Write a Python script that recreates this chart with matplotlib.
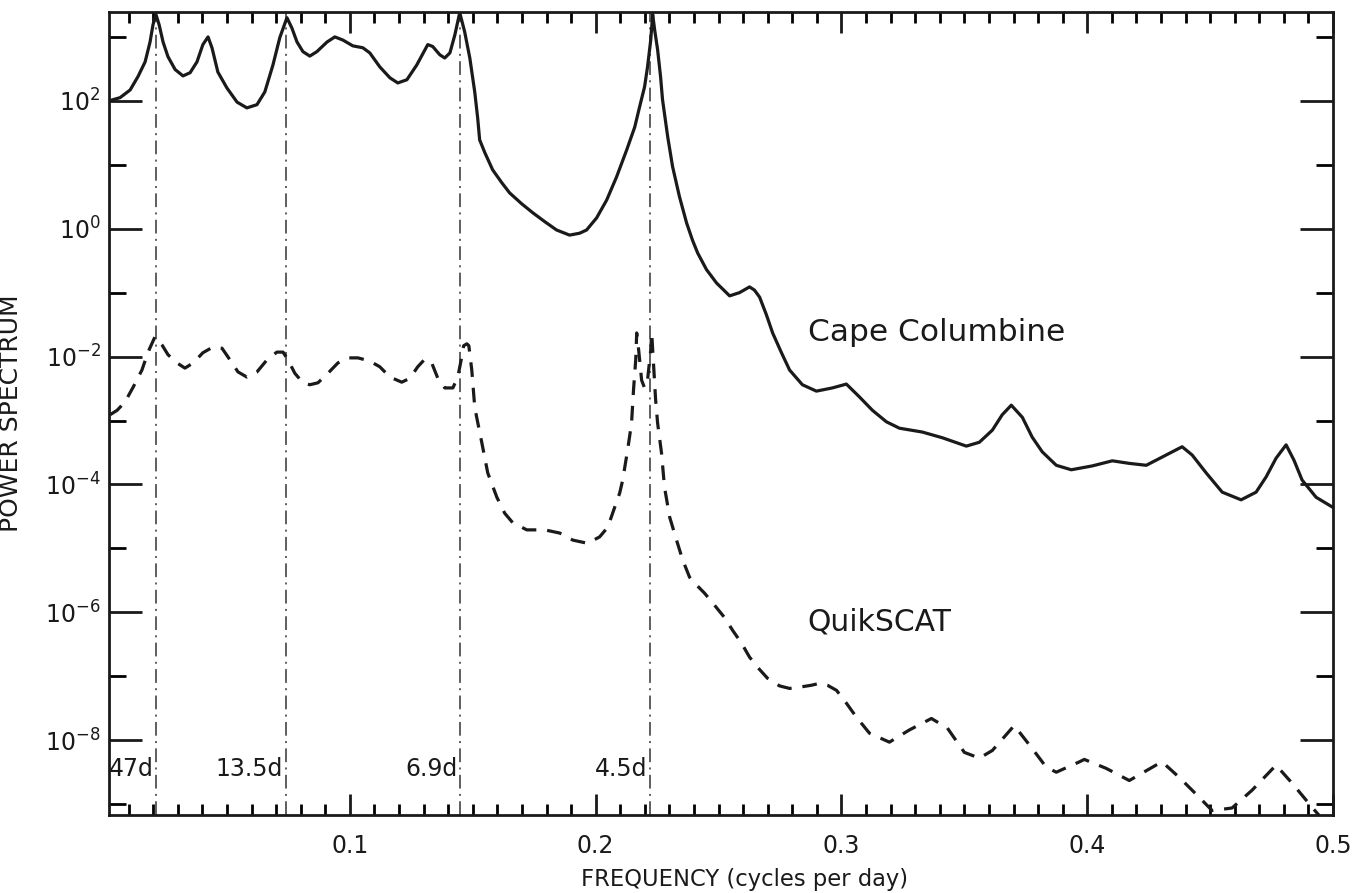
import numpy as np
import matplotlib
matplotlib.use("Agg")
import matplotlib.pyplot as plt
from matplotlib.ticker import FixedLocator, MultipleLocator, FuncFormatter

plt.rcParams['font.family'] = ['DejaVu Sans']
plt.rcParams['mathtext.default'] = 'regular'

# Cape Columbine spectrum: frequency (cpd) and log10 power
cape_freq = [0.0020, 0.0065, 0.0106, 0.0138, 0.0167, 0.0187, 0.0199, 0.0211, 0.0224, 0.0240,
             0.0260, 0.0289, 0.0321, 0.0350, 0.0378, 0.0402, 0.0423, 0.0439, 0.0463, 0.0500,
             0.0541, 0.0581, 0.0622, 0.0654, 0.0687, 0.0715, 0.0744, 0.0764, 0.0785, 0.0809,
             0.0837, 0.0866, 0.0907, 0.0939, 0.0972, 0.1012, 0.1053, 0.1081, 0.1122, 0.1163,
             0.1195, 0.1232, 0.1272, 0.1317, 0.1337, 0.1366, 0.1386, 0.1407, 0.1427, 0.1447,
             0.1467, 0.1488, 0.1508, 0.1520, 0.1528, 0.1549, 0.1581, 0.1618, 0.1650, 0.1699,
             0.1744, 0.1793, 0.1841, 0.1894, 0.1935, 0.1963, 0.2004, 0.2045, 0.2085, 0.2126,
             0.2159, 0.2179, 0.2199, 0.2211, 0.2224, 0.2232, 0.2240, 0.2252, 0.2264, 0.2272,
             0.2293, 0.2313, 0.2341, 0.2370, 0.2394, 0.2415, 0.2451, 0.2492, 0.2545, 0.2585,
             0.2626, 0.2646, 0.2667, 0.2695, 0.2720, 0.2756, 0.2789, 0.2841, 0.2898, 0.2963,
             0.3020, 0.3073, 0.3126, 0.3183, 0.3236, 0.3329, 0.3411, 0.3508, 0.3561, 0.3614,
             0.3654, 0.3691, 0.3736, 0.3776, 0.3817, 0.3874, 0.3935, 0.4020, 0.4102, 0.4171,
             0.4240, 0.4321, 0.4386, 0.4427, 0.4484, 0.4549, 0.4626, 0.4687, 0.4728, 0.4768,
             0.4809, 0.4841, 0.4874, 0.4931, 0.4996]
cape_logp = [2.00, 2.05, 2.17, 2.38, 2.61, 2.92, 3.19, 3.35, 3.19, 2.92,
             2.69, 2.49, 2.39, 2.44, 2.61, 2.88, 3.00, 2.83, 2.45, 2.20,
             1.98, 1.89, 1.94, 2.14, 2.56, 2.99, 3.30, 3.14, 2.92, 2.77,
             2.70, 2.77, 2.92, 3.00, 2.95, 2.86, 2.83, 2.75, 2.53, 2.36,
             2.28, 2.33, 2.56, 2.88, 2.85, 2.72, 2.67, 2.75, 3.03, 3.38,
             3.08, 2.67, 2.14, 1.73, 1.39, 1.19, 0.92, 0.72, 0.56, 0.39,
             0.25, 0.11, -0.02, -0.10, -0.07, -0.02, 0.17, 0.45, 0.81, 1.23,
             1.59, 1.91, 2.22, 2.53, 2.95, 3.35, 3.11, 2.80, 2.38, 2.02,
             1.44, 0.97, 0.50, 0.09, -0.18, -0.38, -0.64, -0.85, -1.05, -1.00,
             -0.91, -0.96, -1.07, -1.35, -1.63, -1.94, -2.21, -2.44, -2.54, -2.49,
             -2.43, -2.63, -2.84, -3.02, -3.12, -3.18, -3.27, -3.40, -3.34, -3.15,
             -2.91, -2.76, -2.95, -3.26, -3.49, -3.70, -3.77, -3.71, -3.63, -3.67,
             -3.70, -3.54, -3.41, -3.54, -3.82, -4.12, -4.24, -4.12, -3.88, -3.59,
             -3.38, -3.62, -3.93, -4.20, -4.35]

# QuikSCAT spectrum: frequency (cpd) and log10 power
qscat_freq = [0.0024, 0.0053, 0.0085, 0.0118, 0.0154, 0.0179, 0.0207, 0.0236, 0.0260, 0.0297,
              0.0329, 0.0362, 0.0402, 0.0443, 0.0480, 0.0512, 0.0545, 0.0581, 0.0622, 0.0663,
              0.0703, 0.0728, 0.0748, 0.0776, 0.0809, 0.0837, 0.0870, 0.0911, 0.0951, 0.0992,
              0.1033, 0.1081, 0.1122, 0.1163, 0.1211, 0.1244, 0.1276, 0.1305, 0.1333, 0.1358,
              0.1386, 0.1419, 0.1439, 0.1455, 0.1463, 0.1476, 0.1484, 0.1496, 0.1508, 0.1516,
              0.1537, 0.1561, 0.1598, 0.1630, 0.1663, 0.1720, 0.1793, 0.1854, 0.1907, 0.1967,
              0.2016, 0.2049, 0.2069, 0.2098, 0.2110, 0.2130, 0.2146, 0.2154, 0.2163, 0.2167,
              0.2175, 0.2187, 0.2199, 0.2211, 0.2224, 0.2228, 0.2236, 0.2244, 0.2252, 0.2268,
              0.2280, 0.2301, 0.2329, 0.2354, 0.2382, 0.2402, 0.2443, 0.2484, 0.2524, 0.2557,
              0.2593, 0.2626, 0.2659, 0.2699, 0.2748, 0.2789, 0.2829, 0.2878, 0.2911, 0.2943,
              0.2980, 0.3020, 0.3061, 0.3114, 0.3195, 0.3276, 0.3366, 0.3431, 0.3500, 0.3561,
              0.3614, 0.3703, 0.3772, 0.3833, 0.3874, 0.3967, 0.3988, 0.4077, 0.4171, 0.4293,
              0.4305, 0.4374, 0.4455, 0.4508, 0.4589, 0.4671, 0.4768, 0.4833, 0.4915, 0.4996]
qscat_logp = [-2.91, -2.84, -2.71, -2.48, -2.21, -1.93, -1.69, -1.82, -1.97, -2.10,
              -2.18, -2.10, -1.94, -1.85, -1.87, -2.05, -2.24, -2.32, -2.24, -2.05,
              -1.93, -1.93, -2.05, -2.26, -2.41, -2.44, -2.41, -2.26, -2.10, -2.02,
              -2.02, -2.07, -2.16, -2.32, -2.40, -2.34, -2.16, -2.04, -2.10, -2.34,
              -2.49, -2.49, -2.32, -2.01, -1.83, -1.80, -1.83, -2.21, -2.79, -2.95,
              -3.35, -3.82, -4.20, -4.45, -4.60, -4.71, -4.71, -4.76, -4.87, -4.92,
              -4.82, -4.67, -4.45, -4.13, -3.93, -3.46, -3.04, -2.52, -2.05, -1.63,
              -1.90, -2.37, -2.49, -2.37, -1.90, -1.63, -2.16, -2.68, -3.04, -3.51,
              -4.04, -4.51, -4.87, -5.18, -5.45, -5.54, -5.70, -5.89, -6.08, -6.28,
              -6.48, -6.70, -6.86, -7.03, -7.15, -7.19, -7.17, -7.14, -7.11, -7.14,
              -7.22, -7.42, -7.64, -7.89, -8.03, -7.84, -7.66, -7.81, -8.19, -8.28,
              -8.16, -7.77, -8.11, -8.42, -8.50, -8.34, -8.30, -8.44, -8.63, -8.36,
              -8.34, -8.58, -8.89, -9.10, -9.06, -8.78, -8.39, -8.67, -9.05, -9.41]

# Periods marked on the plot (days)
period_days = [47, 13.5, 6.9, 4.5]
period_labels = ['47d', '13.5d', '6.9d', '4.5d']

x_ticks = [0.1, 0.2, 0.3, 0.4, 0.5]
y_major_exp = [-8, -6, -4, -2, 0, 2]
y_minor_exp = [-9, -7, -5, -3, -1, 1, 3]

ink = '#1a1a1a'

fig = plt.figure(figsize=(13.59, 8.93), dpi=100)
ax = fig.add_axes([0.0802, 0.0873, 0.9007, 0.8993])

ax.plot(cape_freq, 10.0 ** np.array(cape_logp), color=ink, lw=2.3,
        solid_joinstyle='round', zorder=3)
ax.plot(qscat_freq, 10.0 ** np.array(qscat_logp), color=ink, lw=2.3,
        linestyle=(0, (4.6, 3.4)), zorder=3)

for p, lab in zip(period_days, period_labels):
    f = 1.0 / p
    ax.axvline(f, color='#333333', lw=1.1, linestyle=(0, (9, 3.5, 1.3, 3.5)), zorder=2)
    ax.text(f - 0.0012, 10.0 ** -8.45, lab, ha='right', va='center', fontsize=17, color=ink)

ax.text(0.2862, 10.0 ** -1.63, 'Cape Columbine', fontsize=22.5, ha='left', va='center',
        color=ink)
ax.text(0.2862, 10.0 ** -6.15, 'QuikSCAT', fontsize=21.5, ha='left', va='center', color=ink)

ax.set_yscale('log')
ax.set_xlim(0.002, 0.5)
ax.set_ylim(10.0 ** -9.17, 10.0 ** 3.39)

ax.xaxis.set_major_locator(FixedLocator(x_ticks))
ax.xaxis.set_minor_locator(MultipleLocator(0.01))
ax.xaxis.set_major_formatter(FuncFormatter(lambda v, pos: f'{v:.1f}'))
ax.yaxis.set_major_locator(FixedLocator([10.0 ** e for e in y_major_exp]))
ax.yaxis.set_minor_locator(FixedLocator([10.0 ** e for e in y_minor_exp]))
ax.yaxis.set_major_formatter(FuncFormatter(lambda v, pos: r'$10^{%d}$' % int(round(np.log10(v)))))
ax.yaxis.set_minor_formatter(FuncFormatter(lambda v, pos: ''))

ax.tick_params(axis='x', which='major', direction='in', length=15, width=2, top=True,
               labelsize=17, pad=14, colors=ink)
ax.tick_params(axis='x', which='minor', direction='in', length=8, width=2, top=True)
ax.tick_params(axis='y', which='major', direction='in', length=24, width=2, right=True,
               labelsize=17, pad=6, colors=ink)
ax.tick_params(axis='y', which='minor', direction='in', length=12, width=2, right=True)

for s in ax.spines.values():
    s.set_linewidth(2.0)
    s.set_color(ink)

ax.set_xlabel('FREQUENCY (cycles per day)', fontsize=16.3, color=ink)
ax.set_ylabel('POWER SPECTRUM', fontsize=18, color=ink)
ax.xaxis.set_label_coords(0.5196, -0.066)
ax.yaxis.set_label_coords(-0.0705, 0.5)

fig.savefig('out.png', dpi=100, facecolor='white')
